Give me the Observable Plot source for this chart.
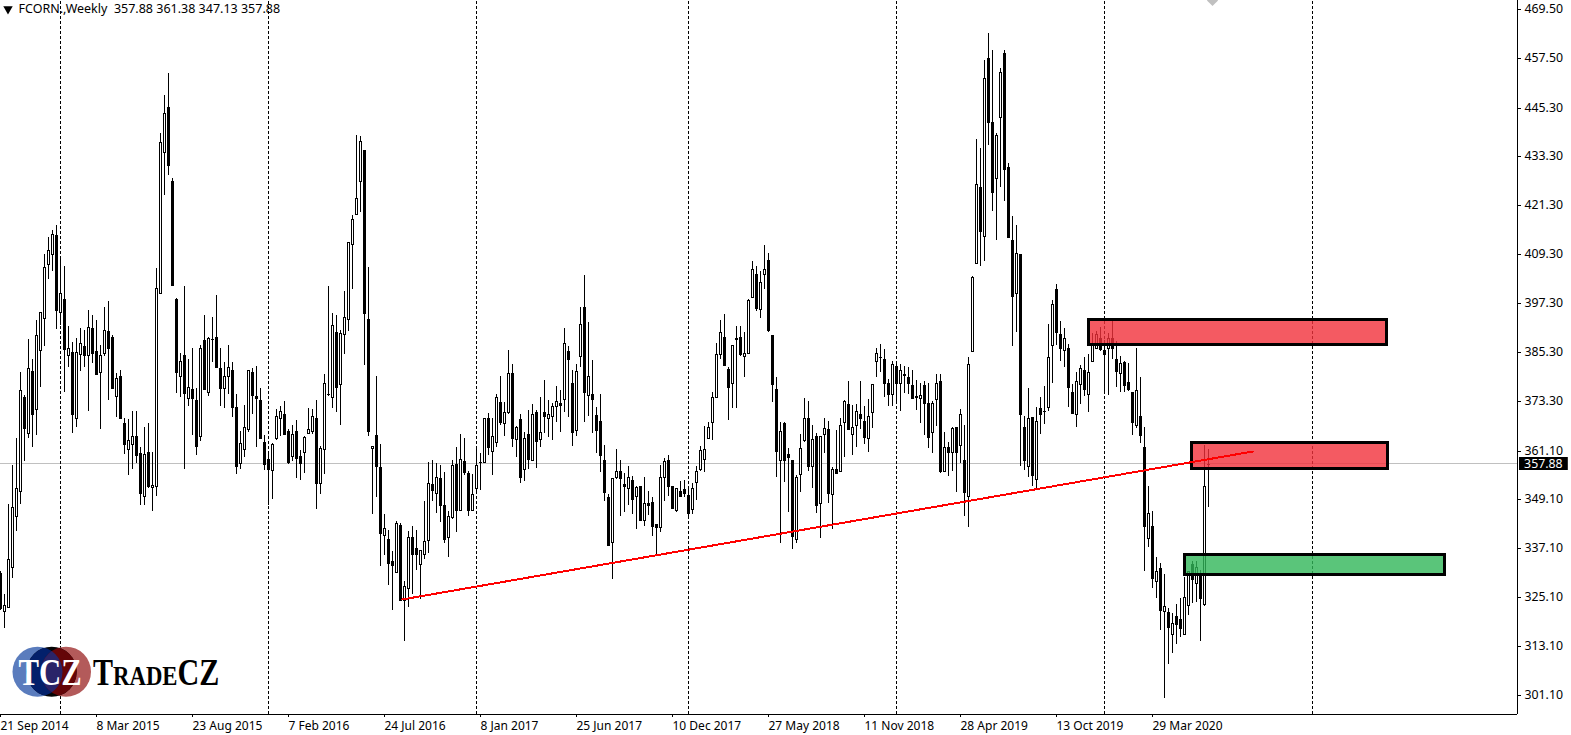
<!DOCTYPE html>
<html>
<head>
<meta charset="utf-8">
<script src="https://cdn.jsdelivr.net/npm/d3@7"></script>
<script src="https://cdn.jsdelivr.net/npm/@observablehq/plot@0.6"></script>
<style>
html,body{margin:0;padding:0;background:#fff;overflow:hidden}
#wrap{position:relative;width:1571px;height:735px}
#wrap svg{display:block}
#logo{position:absolute;left:0;top:630px}
</style>
</head>
<body>
<div id="wrap"></div>
<script>
const highs = [
331.5,325.8,348.0,357.6,364.2,380.3,374.7,388.4,383.6,393.1,
395.2,409.3,413.5,415.2,416.4,408.7,406.4,391.8,387.7,388.7,
391.1,390.7,395.5,394.3,393.1,387.0,396.3,397.7,389.4,380.1,
380.8,369.2,368.8,370.8,370.8,361.9,366.8,367.8,360.8,405.8,
439.0,448.3,453.7,427.9,398.5,385.0,401.4,383.6,386.2,376.4,
386.9,394.3,389.1,393.9,399.2,386.2,382.8,387.0,382.8,374.9,
365.8,372.4,381.0,381.3,381.8,376.5,364.9,360.2,363.0,371.4,
372.0,373.3,366.4,367.4,368.5,361.2,364.7,371.5,371.3,373.6,
362.2,379.9,401.6,394.8,394.3,390.6,400.2,412.2,418.9,438.6,
438.4,434.8,406.1,362.3,379.5,362.8,345.5,341.6,336.5,343.8,
343.3,329.0,341.4,342.6,341.6,336.7,348.7,358.3,358.7,358.1,
357.6,355.9,346.2,358.8,362.0,365.1,364.2,356.1,355.4,362.2,
360.5,369.2,370.3,369.0,375.0,379.5,373.0,385.7,382.4,367.1,
370.1,365.7,371.0,372.5,371.0,374.2,378.4,373.5,372.7,377.0,
376.0,391.1,386.7,380.8,382.3,396.3,404.2,392.6,383.3,371.7,
374.9,362.4,350.5,354.3,361.4,358.8,355.6,357.3,354.9,352.5,
352.5,354.5,351.3,349.7,343.2,357.5,359.2,360.0,352.3,351.8,
353.6,354.0,352.2,353.2,357.2,362.2,367.1,368.0,375.6,387.4,
393.1,394.6,381.5,386.9,391.8,391.6,390.1,398.2,407.6,406.3,
405.1,411.6,409.5,389.4,379.1,368.0,368.0,361.7,358.7,355.0,
365.1,373.9,373.2,367.3,365.3,364.8,369.1,368.3,357.0,366.1,
369.0,373.4,378.2,372.4,372.5,378.3,372.0,373.8,377.4,386.4,
387.3,386.0,378.7,383.0,382.8,382.3,381.9,381.7,381.0,378.4,
377.8,378.1,377.6,373.2,380.0,380.0,365.6,363.1,367.0,367.0,
371.3,367.5,384.1,403.9,437.6,435.3,457.0,463.5,459.4,439.0,
454.9,459.4,431.6,418.8,416.5,409.3,369.6,376.4,369.3,371.7,
374.2,376.9,392.2,398.0,401.9,392.8,391.1,387.2,377.4,380.3,
382.0,384.0,384.7,389.9,390.4,391.4,388.2,389.9,393.1,387.9,
384.2,383.1,382.5,375.6,386.2,379.1,367.0,352.3,346.2,334.9,
333.4,330.7,322.4,321.2,323.4,324.8,330.0,331.6,334.1,333.9,
331.9,362.5,361.38];
const lows = [
322.0,317.6,322.8,329.9,341.4,348.0,358.5,364.3,362.1,364.9,
376.8,386.8,403.1,405.3,391.0,391.9,375.6,381.5,365.3,367.0,
380.7,381.7,370.9,382.7,379.7,366.5,384.4,373.6,376.4,369.4,
368.8,360.3,355.2,356.7,358.1,347.8,347.8,351.8,346.3,350.0,
399.9,423.9,428.8,401.6,375.3,374.3,356.7,372.1,365.0,360.1,
363.5,376.0,374.6,382.9,381.5,372.1,371.6,375.1,369.4,355.4,
356.7,359.6,365.7,370.2,362.1,364.0,356.4,347.8,349.1,363.8,
364.6,365.0,357.9,358.5,354.4,354.0,355.5,365.2,365.2,346.8,
350.4,355.4,374.5,371.6,370.5,367.4,384.8,390.5,400.7,419.1,
419.7,382.1,364.7,345.6,349.6,332.8,335.5,328.2,322.0,331.2,
324.3,314.3,322.7,326.0,331.8,324.6,334.5,336.0,348.8,345.8,
343.6,338.5,335.0,344.4,341.2,346.6,355.0,345.1,346.4,350.8,
351.5,358.1,360.1,355.1,362.0,367.5,364.7,370.1,362.0,359.6,
353.2,353.7,356.7,358.6,356.9,362.0,365.4,364.4,363.7,368.2,
365.7,370.6,369.4,362.2,364.8,381.5,368.0,369.7,365.5,360.4,
355.9,348.8,337.7,329.5,354.2,345.1,346.1,347.7,345.6,341.9,
343.8,342.6,345.2,340.2,335.5,341.0,348.8,350.0,346.8,346.0,
349.7,349.8,344.9,345.5,349.0,356.0,355.8,363.9,363.8,374.2,
383.5,382.0,368.7,371.6,371.6,384.4,379.2,384.7,398.5,395.3,
393.7,400.7,390.3,373.0,354.7,338.3,353.5,346.1,336.9,338.3,
351.0,363.1,356.2,351.8,345.9,339.6,360.4,348.3,341.9,355.5,
355.9,359.6,366.1,360.1,362.0,366.5,362.7,360.8,366.6,379.2,
380.5,374.3,372.1,372.1,372.7,370.7,375.2,374.9,373.7,371.1,
367.8,364.9,361.8,360.6,367.2,355.5,355.8,354.9,356.0,351.0,
358.1,345.1,342.4,385.5,407.1,406.5,407.7,436.1,420.0,412.8,
425.9,422.4,413.6,386.8,390.3,357.4,356.4,354.7,352.5,351.5,
365.2,367.7,370.9,377.8,387.1,383.2,381.5,371.9,370.4,367.0,
372.6,374.6,370.6,382.8,386.0,385.6,375.8,374.8,383.6,376.8,
375.6,375.6,375.8,365.0,366.7,363.0,331.6,337.5,327.4,325.0,
317.1,300.4,308.8,311.5,313.7,315.4,315.9,320.8,323.8,324.0,
314.4,323.0,347.13];
const bodyTops = [
331.0,323.1,334.4,347.2,351.8,375.9,374.3,381.3,380.6,389.4,
395.2,406.1,410.3,414.2,414.0,399.7,398.3,386.2,385.2,385.2,
387.4,386.8,391.4,391.1,385.5,384.5,390.6,390.4,388.9,378.8,
379.3,367.8,363.6,364.6,364.6,360.4,360.3,360.7,352.7,401.1,
436.8,443.9,445.4,427.4,398.3,383.2,384.5,376.6,376.1,373.4,
386.2,388.2,388.7,388.4,388.9,381.3,379.3,381.5,380.8,371.7,
362.9,367.0,381.0,380.3,374.4,373.6,363.2,359.0,362.6,369.5,
370.9,370.2,365.9,365.2,365.9,359.7,364.4,366.4,369.5,369.0,
361.8,377.6,375.1,391.9,390.2,389.9,393.9,412.2,417.9,423.2,
437.2,434.8,393.3,362.3,364.9,357.0,342.1,339.3,334.0,343.3,
342.8,327.8,340.0,339.9,337.2,336.7,339.0,353.1,352.8,354.6,
354.3,347.7,345.1,357.5,357.8,359.0,358.5,355.5,350.5,357.5,
358.3,369.1,369.0,364.7,374.2,373.0,370.5,380.2,380.2,366.9,
368.8,364.1,365.1,370.2,370.5,365.6,370.5,370.2,372.0,373.2,
372.9,387.4,385.5,377.6,380.6,392.1,396.3,379.3,374.9,369.8,
368.3,358.7,349.7,354.3,356.0,356.2,352.8,354.5,354.0,352.1,
352.3,348.2,348.2,348.4,343.2,354.5,358.5,358.7,352.3,351.8,
351.3,351.6,350.2,351.8,356.2,361.2,361.4,367.0,374.2,384.7,
390.1,388.9,381.2,386.9,388.7,389.1,385.0,398.0,405.6,404.4,
402.4,405.6,408.0,389.4,376.1,365.8,367.9,360.2,358.7,354.5,
361.7,369.2,369.2,363.9,364.6,364.8,366.6,366.3,356.5,356.7,
367.5,373.2,372.5,367.0,370.7,370.2,368.3,369.7,377.4,385.0,
384.0,383.5,377.6,382.3,381.8,381.0,380.0,379.1,377.1,374.4,
374.7,377.1,372.9,372.7,377.8,378.1,361.9,361.9,366.6,367.0,
370.0,358.9,382.3,403.6,426.5,425.8,452.5,457.5,441.7,438.5,
454.0,458.6,430.6,412.7,409.5,409.3,367.0,369.0,369.3,368.3,
371.5,370.7,384.0,397.0,400.7,389.6,388.7,386.4,375.4,378.1,
381.3,381.0,380.3,387.2,389.6,388.7,385.8,388.7,388.7,383.5,
382.5,382.8,377.9,375.6,375.9,369.5,361.9,345.7,342.5,331.5,
332.2,322.9,321.4,318.7,320.4,319.7,325.1,331.6,333.2,332.4,
331.0,352.3,357.88];
const bodyBottoms = [
322.5,321.8,322.8,332.6,345.1,351.3,366.7,365.3,370.2,371.2,
385.7,393.6,406.8,409.3,395.5,395.0,386.0,384.5,370.0,369.0,
384.7,384.6,384.5,385.1,380.0,380.3,385.0,386.4,376.5,374.4,
369.2,362.6,361.4,362.6,359.9,350.8,349.9,352.5,352.2,352.3,
399.9,434.3,431.1,401.7,380.5,379.3,375.2,373.9,374.1,362.3,
364.6,376.2,375.6,388.4,381.5,376.5,376.4,379.5,371.9,357.4,
358.0,361.4,366.3,374.8,373.9,364.3,357.8,356.6,356.3,364.1,
369.2,365.1,358.3,359.7,359.2,358.1,360.7,365.3,366.0,353.2,
353.1,361.4,375.1,374.2,376.8,377.5,389.6,393.4,411.9,419.1,
427.4,394.8,366.0,361.8,357.2,340.9,340.4,333.6,332.9,331.2,
324.3,324.5,327.3,335.6,335.6,333.3,335.7,339.2,351.5,350.6,
347.8,339.5,339.9,344.9,346.6,346.6,355.9,346.6,346.4,351.8,
358.3,358.4,361.9,360.9,363.3,368.0,367.8,370.6,364.1,363.9,
354.7,356.5,359.1,358.8,363.4,363.9,369.7,369.0,369.7,372.1,
372.4,373.7,383.5,365.7,366.1,384.2,375.6,374.8,373.8,366.2,
360.1,351.0,337.9,338.6,354.5,354.3,352.5,352.0,349.3,349.9,
344.0,344.0,347.8,342.7,342.4,342.3,354.5,352.3,347.0,346.4,
350.0,350.8,345.9,346.7,353.3,356.5,359.0,364.3,368.0,374.2,
384.7,382.2,376.6,377.8,388.4,384.7,384.2,385.1,398.7,396.0,
395.8,404.4,390.6,377.4,360.9,358.9,358.7,359.6,340.2,339.3,
355.3,363.6,357.2,357.2,347.8,348.2,365.1,350.8,350.4,355.5,
356.2,368.0,366.5,365.1,367.5,369.2,364.4,364.1,370.5,383.0,
384.0,377.8,375.1,375.1,377.8,377.8,379.6,377.8,373.9,374.2,
373.9,372.7,364.4,365.6,373.7,356.2,356.0,360.8,360.7,360.7,
362.4,351.0,350.0,385.5,407.2,415.1,413.7,441.8,424.5,427.9,
442.9,430.3,413.6,399.1,399.7,370.2,358.9,357.4,355.0,354.2,
370.2,370.7,371.7,386.9,390.3,386.4,385.7,376.8,370.4,370.2,
377.4,376.3,375.1,383.2,386.2,386.0,384.9,386.2,386.2,380.7,
380.1,377.3,376.3,368.0,367.5,365.0,342.7,339.7,329.9,329.2,
322.0,321.8,317.7,316.1,318.6,317.6,316.1,323.3,329.5,328.5,
325.0,323.5,357.88];
const directions = (
"BWWWWWBWBW"+"WWWWBWBWBW"+"WBWBBWWBBW"+"BBWWBBWBWW"+"WWBBBWBWBB"+"WBWWBBWWBB"+
"WWWBBBBBWW"+"WBBWBBWWWB"+"WWWWBWWWWW"+"WBBWBBWBBW"+"BWWBBWWWBW"+"BBWWBWBBWW"+
"WWBWWBWWBW"+"BWBWBWBWWW"+"BWBBWWBWBB"+"BBBWWBBWBW"+"BWBBBWWBBW"+"BBBWWWWWWW"+
"WBBWBBWWWB"+"WWBBBWBBBW"+"WWBWBWWBWB"+"WWBWWBBWWW"+"WBBWBWBBBB"+"WBBWWBWBWB"+
"WBWWWBWBBW"+"WBBBWBBWBW"+"BWWWBBWBBW"+"WBWWWBBWBB"+"WBBBWBBWBW"+"BWBWBBWWBW"+"BWW").split("");

const priceTicks = [469.5,457.5,445.3,433.3,421.3,409.3,397.3,385.3,373.3,361.1,349.1,337.1,325.1,313.1,301.1];
const dateLabels = ["21 Sep 2014","8 Mar 2015","23 Aug 2015","7 Feb 2016","24 Jul 2016","8 Jan 2017","25 Jun 2017","10 Dec 2017","27 May 2018","11 Nov 2018","28 Apr 2019","13 Oct 2019","29 Mar 2020"];
const dateBars = [0,24,48,72,96,120,144,168,192,216,240,264,288];
const separatorBars = [15,67,119,172,224,276,328];
const lastPrice = 357.88;
const headerText = "FCORN.,Weekly  357.88 361.38 347.13 357.88";

const zoneLeft = [272.1,297.9,296.1];
const zoneRight = [346.5,346.75,361];
const zoneTop = [393.5,363.1,335.6];
const zoneBottom = [387.2,356.8,330.9];
const zoneFill = ["#f1313b","#f1313b","#31b759"];

const trendBars = [100.4,313.1];
const trendPrices = [324.6,361.05];

const candles = highs.map((h,i)=>({i,h,l:lows[i],t:bodyTops[i],b:bodyBottoms[i],d:directions[i]}));
const zones = zoneLeft.map((x,i)=>({x1:x,x2:zoneRight[i],y1:zoneTop[i],y2:zoneBottom[i],fill:zoneFill[i]}));
const trend = trendBars.map((x,i)=>({x,y:trendPrices[i]}));
const crisp = {shapeRendering:"crispEdges"};

const chart = Plot.plot({
  width:1571, height:735,
  marginLeft:0, marginRight:54, marginTop:0, marginBottom:21,
  style:{fontFamily:"'Noto Sans',sans-serif",fontSize:"12px",background:"#fff",color:"#000",overflow:"hidden"},
  x:{domain:[0,379],range:[0,1516]},
  y:{domain:[301.1,469.5],range:[695,9],round:true},
  marks:[
    Plot.ruleY([lastPrice],{x1:0,x2:379.25,stroke:"#c0c0c0",dy:-1,...crisp}),
    Plot.ruleX(separatorBars,{y1:296.43,y2:471.71,stroke:"#000",strokeDasharray:"3,2",...crisp}),
    Plot.ruleX(candles,{x:"i",y1:"h",y2:"l",stroke:"#000",...crisp}),
    Plot.ruleX(candles,{x:"i",y1:"t",y2:"b",stroke:"#000",strokeWidth:3,insetBottom:-1,...crisp}),
    Plot.ruleX(candles.filter(c=>c.d==="W"&&c.t-c.b>0.4),{x:"i",y1:"t",y2:"b",stroke:"#fff",insetTop:1,...crisp}),
    Plot.rect(zones,{x1:"x1",x2:"x2",y1:"y1",y2:"y2",fill:"fill",fillOpacity:0.8,stroke:"#000",strokeWidth:3,...crisp}),
    Plot.line(trend,{x:"x",y:"y",stroke:"#ff0000",strokeWidth:2,...crisp}),
    Plot.ruleY([296.43],{x1:0,x2:379.25,stroke:"#000",...crisp}),
    Plot.ruleX([379.25],{y1:296.43,y2:471.71,stroke:"#000",...crisp}),
    Plot.axisY({anchor:"right",ticks:priceTicks,tickFormat:d=>d.toFixed(2),tickSize:3,tickPadding:4,label:null,stroke:"#000",fill:"#000",fontSize:12.3}),
    Plot.axisX({anchor:"bottom",ticks:dateBars,tickFormat:d=>dateLabels[dateBars.indexOf(d)],tickSize:3,tickPadding:4,textAnchor:"start",label:null,stroke:"#000",fill:"#000",fontSize:12}),
    Plot.rect([lastPrice],{x1:379.75,x2:391.95,y1:359.45,y2:356.4,fill:"#000"}),
    Plot.text([lastPrice],{x:380.9,y:d=>d,text:d=>d.toFixed(2),fill:"#fff",textAnchor:"start",fontSize:12.3}),
    Plot.dot([0],{x:303,y:()=>471.71,symbol:"diamond2",r:5,fill:"#c0c0c0",stroke:null}),
    Plot.dot([0],{frameAnchor:"top-left",dx:7.5,dy:8.5,symbol:"triangle2",r:4.5,rotate:180,fill:"#000",stroke:null}),
    Plot.text([headerText],{frameAnchor:"top-left",dx:18,dy:4,lineAnchor:"top",textAnchor:"start",fill:"#000",fontSize:12.5,style:{whiteSpace:"pre"}})
  ]
});
document.getElementById("wrap").appendChild(chart);

document.getElementById("wrap").insertAdjacentHTML("beforeend",`
<svg id="logo" width="240" height="84" viewBox="0 0 240 84" xmlns="http://www.w3.org/2000/svg">
  <defs>
    <clipPath id="cMid"><circle cx="51.7" cy="41.7" r="25"/></clipPath>
    <clipPath id="cRed"><circle cx="66" cy="41.7" r="25"/></clipPath>
  </defs>
  <circle cx="37.5" cy="41.7" r="25" fill="#5a7cbd"/>
  <circle cx="66" cy="41.7" r="25" fill="#b35a5a"/>
  <circle cx="51.7" cy="41.7" r="25" fill="#050505"/>
  <g clip-path="url(#cMid)">
    <circle cx="37.5" cy="41.7" r="25" fill="#03206b"/>
    <circle cx="66" cy="41.7" r="25" fill="#650508"/>
    <circle cx="37.5" cy="41.7" r="25" fill="#2a2468" clip-path="url(#cRed)"/>
  </g>
  <text transform="translate(18.5,55) scale(.83,1)" font-family="'Liberation Serif',serif" font-weight="700" font-size="37" fill="#fff">TCZ</text>
  <text transform="translate(93,55) scale(.812,1)" font-family="'Liberation Serif',serif" font-weight="700" font-size="37" fill="#000">T<tspan font-size="28">RADE</tspan>CZ</text>
</svg>`);
</script>
</body>
</html>
